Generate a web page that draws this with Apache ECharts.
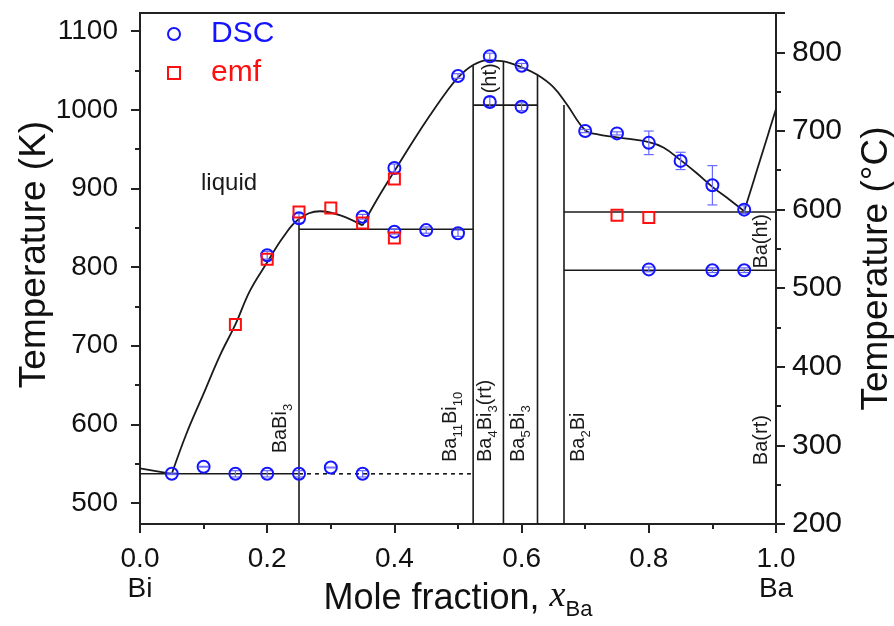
<!DOCTYPE html>
<html>
<head>
<meta charset="utf-8">
<title>Bi-Ba phase diagram</title>
<script src="https://cdn.jsdelivr.net/npm/echarts@6.0.0/dist/echarts.min.js"></script>
<style>
  html, body { margin: 0; padding: 0; background: #fff; }
  #chart { width: 894px; height: 626px; }
</style>
</head>
<body>
<div id="chart"></div>
<script>
// ---- data (T in K, x = mole fraction Ba) ----
const dscX   = [0.05, 0.1, 0.15, 0.2, 0.25, 0.3, 0.35, 0.2, 0.25, 0.35, 0.4, 0.4, 0.45, 0.5, 0.5, 0.55, 0.55, 0.6, 0.6, 0.7, 0.75, 0.8, 0.85, 0.9, 0.95, 0.8, 0.9, 0.95]
const dscT   = [537, 546, 537, 537, 537, 545, 537, 815, 862, 864, 926, 845, 847, 843, 1043, 1068, 1010, 1056, 1004, 973, 970, 958, 935, 904, 873, 797, 796, 796]
const dscErr = [1, 0.5, 4, 4, 4, 0.5, 4, 5, 6, 3, 5, 3, 4, 4, 3, 4, 6, 3, 5, 2, 2, 15, 11, 25, 5, 3, 3, 3]

const emfX = [0.15, 0.2, 0.25, 0.3, 0.35, 0.4, 0.4, 0.75, 0.8]
const emfT = [727, 810, 870, 875, 856, 912, 837, 866, 863]

// liquidus, in pieces (kinks at 0.05, 0.35 and 0.95)
const liq1X = [0, 0.05]
const liq1T = [544, 537]
const liq2X = [0.05, 0.073, 0.1, 0.126, 0.15, 0.173, 0.2, 0.225, 0.25, 0.283, 0.314, 0.35]
const liq2T = [537, 588, 639, 688, 727, 770, 806, 838, 861, 871, 866, 853]
const liq3X = [0.35, 0.372, 0.4, 0.43, 0.456, 0.482, 0.5, 0.522, 0.545, 0.569, 0.6, 0.624, 0.65, 0.671, 0.7, 0.718, 0.75, 0.8, 0.823, 0.85, 0.876, 0.9, 0.928, 0.95]
const liq3T = [853, 885, 922, 961, 993, 1023, 1041, 1056, 1063, 1062, 1054, 1045, 1029, 1007, 974, 969, 965, 959, 952, 936, 919, 902, 885, 871]
const liq4X = [0.95, 1.0]
const liq4T = [871, 1001]

// compounds (vertical lines) and invariant lines
const compX   = [0.25, 11 / 21, 4 / 7, 5 / 8, 2 / 3]
const compTop = [862, 1056, 1062, 1045, 1006]
const isoT    = [537, 848, 1006, 870, 796]
const isoFrom = [0, 0.25, 11 / 21, 2 / 3, 2 / 3]
const isoTo   = [0.25, 11 / 21, 5 / 8, 1, 1]
const dashT = 537
const dashFrom = 0.25
const dashTo = 11 / 21

// tick labels
const xTickText = { '0': '0.0\nBi', '0.2': '0.2', '0.4': '0.4', '0.6': '0.6', '0.8': '0.8', '1': '1.0\nBa' }
const kTicks = [500, 600, 700, 800, 900, 1000, 1100]

// annotations: text, x, T (bottom end of rotated text)
const noteText = ['{b|BaBi}{s|3}', '{b|Ba}{s|11}{b|Bi}{s|10}', '{b|Ba}{s|4}{b|Bi}{s|3}{b|(rt)}', '{b|Ba}{s|5}{b|Bi}{s|3}', '{b|Ba}{s|2}{b|Bi}', '{b|(ht)}', '{b|Ba(ht)}', '{b|Ba(rt)}']
const noteX = [0.223, 0.49, 0.545, 0.597, 0.691, 0.553, 0.978, 0.979]
const noteT = [563, 552, 552, 552, 552, 1021, 798, 548]

const TMIN = 473.15
const TMAX = 1123.15
const FONT = 'Liberation Sans, Arial, sans-serif'
const BLUE = '#1414ff'
const RED = '#ff1010'
const INK = '#1a1a1a'

const myChart = echarts.init(document.getElementById('chart'))

function lineSeries(xs, ys, extra) {
  return Object.assign({
    type: 'line',
    data: xs.map((x, i) => [x, ys[i]]),
    symbol: 'none',
    silent: true,
    lineStyle: { color: INK, width: 1.6 },
    z: 2
  }, extra || {})
}

const series = []

// phase lines
compX.forEach((x, i) => series.push(lineSeries([x, x], [TMIN, compTop[i]])))
isoT.forEach((t, i) => series.push(lineSeries([isoFrom[i], isoTo[i]], [t, t])))
series.push(lineSeries([dashFrom, dashTo], [dashT, dashT], { lineStyle: { color: INK, width: 1.6, type: [4, 4] } }))

// liquidus
series.push(lineSeries(liq1X, liq1T, { lineStyle: { color: INK, width: 1.8 } }))
series.push(lineSeries(liq2X, liq2T, { smooth: 0.4, lineStyle: { color: INK, width: 1.8 } }))
series.push(lineSeries(liq3X, liq3T, { smooth: 0.4, lineStyle: { color: INK, width: 1.8 } }))
series.push(lineSeries(liq4X, liq4T, { lineStyle: { color: INK, width: 1.8 } }))

// error bars
series.push({
  type: 'custom',
  name: 'err',
  silent: true,
  z: 4,
  renderItem: function (params, api) {
    const x = api.value(0)
    const lo = api.coord([x, api.value(1)])
    const hi = api.coord([x, api.value(2)])
    const w = 5
    const st = { stroke: '#6a6aff', lineWidth: 1.2 }
    return {
      type: 'group',
      children: [
        { type: 'line', shape: { x1: lo[0], y1: lo[1], x2: hi[0], y2: hi[1] }, style: st },
        { type: 'line', shape: { x1: lo[0] - w, y1: lo[1], x2: lo[0] + w, y2: lo[1] }, style: st },
        { type: 'line', shape: { x1: hi[0] - w, y1: hi[1], x2: hi[0] + w, y2: hi[1] }, style: st }
      ]
    }
  },
  data: dscX.map((x, i) => [x, dscT[i] - dscErr[i], dscT[i] + dscErr[i]])
})

series.push({
  name: 'DSC',
  type: 'scatter',
  symbol: 'circle',
  symbolSize: 12,
  itemStyle: { color: 'rgba(255,255,255,0)', borderColor: BLUE, borderWidth: 2, opacity: 1 },
  data: dscX.map((x, i) => [x, dscT[i]]),
  z: 5
})
series.push({
  name: 'emf',
  type: 'scatter',
  symbol: 'rect',
  symbolSize: 11,
  itemStyle: { color: 'rgba(255,255,255,0)', borderColor: RED, borderWidth: 2, opacity: 1 },
  data: emfX.map((x, i) => [x, emfT[i]]),
  z: 6
})

// rotated compound labels
series.push({
  type: 'scatter',
  silent: true,
  symbolSize: 0,
  itemStyle: { opacity: 1 },
  z: 7,
  label: {
    show: true,
    position: 'inside',
    rotate: 90,
    align: 'left',
    verticalAlign: 'middle',
    formatter: p => noteText[p.dataIndex],
    rich: {
      b: { fontFamily: FONT, fontSize: 20, color: INK, lineHeight: 22, verticalAlign: 'top' },
      s: { fontFamily: FONT, fontSize: 13, color: INK, lineHeight: 14, verticalAlign: 'top', padding: [11, 0, 0, 0] }
    }
  },
  data: noteX.map((x, i) => [x, noteT[i]])
})

// "liquid"
series.push({
  type: 'scatter',
  silent: true,
  symbolSize: 0,
  itemStyle: { opacity: 1 },
  z: 7,
  label: { show: true, position: 'inside', formatter: 'liquid', fontFamily: FONT, fontSize: 24, color: INK },
  data: [[0.14, 907]]
})

const option = {
  backgroundColor: '#fff',
  animation: false,
  textStyle: { fontFamily: FONT },
  grid: {
    left: 140, right: 118, top: 13, bottom: 102,
    outerBoundsMode: 'none',
    containLabel: false,
    show: true, borderColor: '#222', borderWidth: 2, backgroundColor: 'transparent'
  },
  legend: {
    orient: 'vertical',
    left: 162,
    top: 14,
    itemWidth: 12,
    itemHeight: 12,
    itemGap: 9,
    textStyle: { fontFamily: FONT, fontSize: 30, padding: [0, 0, 0, 26] },
    data: [
      { name: 'DSC', textStyle: { color: BLUE, fontSize: 30, padding: [0, 0, 0, 26] } },
      { name: 'emf', textStyle: { color: RED, fontSize: 30, padding: [0, 0, 0, 26] } }
    ]
  },
  xAxis: {
    type: 'value',
    min: 0,
    max: 1,
    interval: 0.2,
    name: 'Mole fraction, {i|x}{s|Ba}',
    nameLocation: 'middle',
    nameGap: 55,
    nameMoveOverlap: false,
    nameTextStyle: {
      fontFamily: FONT, fontSize: 36, color: '#111',
      rich: {
        i: { fontFamily: 'Liberation Serif, serif', fontStyle: 'italic', fontSize: 36, color: '#111', verticalAlign: 'top', lineHeight: 40 },
        s: { fontFamily: FONT, fontSize: 22, color: '#111', verticalAlign: 'top', lineHeight: 22, padding: [20, 0, 0, 0] }
      }
    },
    axisLine: { lineStyle: { color: '#222', width: 2 } },
    axisTick: { inside: false, length: 9, lineStyle: { color: '#222', width: 2 } },
    minorTick: { show: true, splitNumber: 2, length: 5, lineStyle: { color: '#222', width: 2 } },
    splitLine: { show: false },
    axisLabel: {
      fontSize: 28, color: '#111', margin: 20, lineHeight: 30,
      formatter: v => xTickText[String(+v.toFixed(1))] || v.toFixed(1)
    }
  },
  yAxis: [
    {
      type: 'value',
      position: 'left',
      min: TMIN,
      max: TMAX,
      minInterval: 100,
      maxInterval: 100,
      splitNumber: 6,
      name: 'Temperature (K)',
      nameLocation: 'middle',
      nameRotate: 90,
      nameGap: 87,
      nameMoveOverlap: false,
      nameTextStyle: { fontFamily: FONT, fontSize: 37, color: '#111', padding: [0, 0, 0, 28] },
      axisLine: { show: true, lineStyle: { color: '#222', width: 2 } },
      axisTick: { show: true, length: 9, customValues: kTicks, lineStyle: { color: '#222', width: 2 } },
      minorTick: { show: true, splitNumber: 2, length: 5, lineStyle: { color: '#222', width: 2 } },
      splitLine: { show: false },
      axisLabel: { fontSize: 28, color: '#111', margin: 22, customValues: kTicks, formatter: v => String(Math.round(v)) }
    },
    {
      type: 'value',
      position: 'right',
      min: 200,
      max: 850,
      interval: 100,
      name: 'Temperature (°C)',
      nameLocation: 'middle',
      nameRotate: 90,
      nameGap: 82,
      nameMoveOverlap: false,
      nameTextStyle: { fontFamily: FONT, fontSize: 37, color: '#111' },
      axisLine: { show: true, lineStyle: { color: '#222', width: 2 } },
      axisTick: { show: true, length: 9, lineStyle: { color: '#222', width: 2 } },
      minorTick: { show: true, splitNumber: 2, length: 5, lineStyle: { color: '#222', width: 2 } },
      splitLine: { show: false },
      axisLabel: { fontSize: 30, color: '#111', margin: 16, showMaxLabel: false, formatter: v => String(Math.round(v)) }
    }
  ],
  series: series
}

myChart.setOption(option)
</script>
</body>
</html>
